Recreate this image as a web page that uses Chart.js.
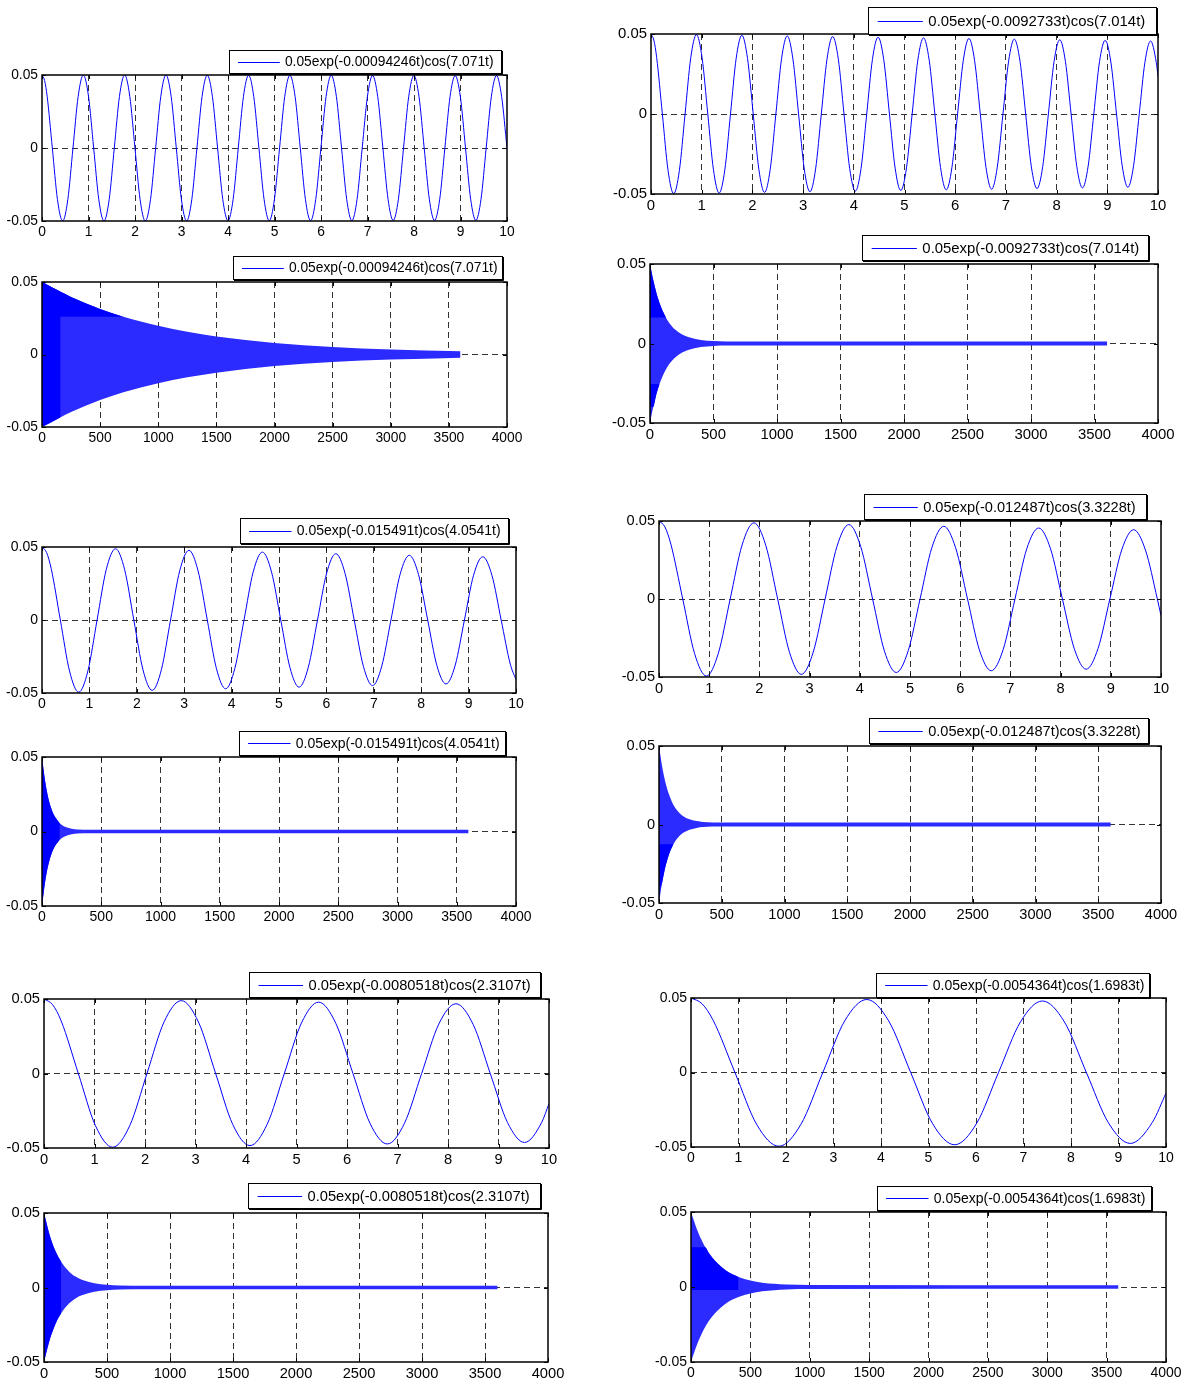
<!DOCTYPE html>
<html>
<head>
<meta charset="utf-8">
<script src="https://cdn.jsdelivr.net/npm/chart.js@4.4.1/dist/chart.umd.min.js"></script>
<style>
    html, body { margin: 0; padding: 0; background: #fff; }
    #page { position: relative; width: 1188px; height: 1380px; overflow: hidden; }
    #page canvas { position: absolute; }
</style>
</head>
<body>
<div id="page"></div>
<script>
// ---- data ----
// short-time plots: time (s) and response, sampled every eighth of a period
const t1 = [0, 0.056, 0.111, 0.222, 0.333, 0.444, 0.555, 0.666, 0.778, 0.889, 1.000, 1.111, 1.222, 1.333, 1.444, 1.555, 1.666,
    1.777, 1.888, 1.999, 2.110, 2.221, 2.333, 2.444, 2.555, 2.666, 2.777, 2.888, 2.999, 3.110, 3.221, 3.332, 3.443,
    3.554, 3.665, 3.776, 3.888, 3.999, 4.110, 4.221, 4.332, 4.443, 4.554, 4.665, 4.776, 4.887, 4.998, 5.109, 5.220,
    5.331, 5.443, 5.554, 5.665, 5.776, 5.887, 5.998, 6.109, 6.220, 6.331, 6.442, 6.553, 6.664, 6.775, 6.886, 6.998,
    7.109, 7.220, 7.331, 7.442, 7.553, 7.664, 7.775, 7.886, 7.997, 8.108, 8.219, 8.330, 8.441, 8.553, 8.664, 8.775,
    8.886, 8.997, 9.108, 9.219, 9.330, 9.441, 9.552, 9.663, 9.774, 9.885, 10];
const y1 = [0.05, 0.0462, 0.0354, 0, -0.0354, -0.05, -0.0354, 0, 0.0354, 0.05, 0.0354, 0, -0.0354, -0.05, -0.0354, 0, 0.0354,
    0.05, 0.0354, 0, -0.0354, -0.05, -0.0354, 0, 0.0354, 0.05, 0.0354, 0, -0.0354, -0.05, -0.0354, 0, 0.0354,
    0.0498, 0.0352, 0, -0.0352, -0.0498, -0.0352, 0, 0.0352, 0.0498, 0.0352, 0, -0.0352, -0.0498, -0.0352, 0, 0.0352,
    0.0498, 0.0352, 0, -0.0352, -0.0498, -0.0352, 0, 0.0352, 0.0498, 0.0352, 0, -0.0352, -0.0498, -0.0352, 0, 0.0352,
    0.0496, 0.0351, 0, -0.0351, -0.0496, -0.0351, 0, 0.0351, 0.0496, 0.0351, 0, -0.0351, -0.0496, -0.0351, 0, 0.0351,
    0.0496, 0.0351, 0, -0.0351, -0.0496, -0.0351, 0, 0.0351, 0.0496, 0.0351, 0];

const t3 = [0, 0.097, 0.194, 0.387, 0.581, 0.775, 0.969, 1.162, 1.356, 1.550, 1.744, 1.937, 2.131, 2.325, 2.519, 2.712, 2.906,
    3.100, 3.293, 3.487, 3.681, 3.875, 4.068, 4.262, 4.456, 4.650, 4.843, 5.037, 5.231, 5.424, 5.618, 5.812, 6.006,
    6.199, 6.393, 6.587, 6.781, 6.974, 7.168, 7.362, 7.556, 7.749, 7.943, 8.137, 8.330, 8.524, 8.718, 8.912, 9.105,
    9.299, 9.493, 9.687, 9.880, 10];
const y3 = [0.05, 0.0462, 0.0352, 0, -0.035, -0.0494, -0.0348, 0, 0.0346, 0.0488, 0.0344, 0, -0.0342, -0.0482, -0.034, 0, 0.0338,
    0.0477, 0.0336, 0, -0.0334, -0.0471, -0.0332, 0, 0.033, 0.0465, 0.0328, 0, -0.0326, -0.046, -0.0324, 0, 0.0322,
    0.0454, 0.032, 0, -0.0318, -0.0449, -0.0316, 0, 0.0314, 0.0443, 0.0312, 0, -0.0311, -0.0438, -0.0309, 0, 0.0307,
    0.0433, 0.0305, 0, -0.0303, -0.0409];

const t5 = [0, 0.170, 0.340, 0.680, 1.020, 1.360, 1.699, 2.039, 2.379, 2.719, 3.059, 3.399, 3.739, 4.079, 4.419, 4.759, 5.098,
    5.438, 5.778, 6.118, 6.458, 6.798, 7.138, 7.478, 7.818, 8.158, 8.497, 8.837, 9.177, 9.517, 9.857, 10];
const y5 = [0.05, 0.0462, 0.0353, 0, -0.0351, -0.0495, -0.0349, 0, 0.0347, 0.0489, 0.0345, 0, -0.0343, -0.0484, -0.0341, 0, 0.0339,
    0.0479, 0.0337, 0, -0.0336, -0.0473, -0.0334, 0, 0.0332, 0.0468, 0.033, 0, -0.0328, -0.0463, -0.0327, -0.0202];

const t7 = [0, 0.056, 0.112, 0.224, 0.336, 0.448, 0.560, 0.672, 0.784, 0.896, 1.008, 1.120, 1.232, 1.344, 1.456, 1.568, 1.680,
    1.792, 1.904, 2.016, 2.128, 2.240, 2.351, 2.463, 2.575, 2.687, 2.799, 2.911, 3.023, 3.135, 3.247, 3.359, 3.471,
    3.583, 3.695, 3.807, 3.919, 4.031, 4.143, 4.255, 4.367, 4.479, 4.591, 4.703, 4.815, 4.927, 5.039, 5.151, 5.263,
    5.375, 5.487, 5.599, 5.711, 5.823, 5.935, 6.047, 6.159, 6.271, 6.383, 6.495, 6.607, 6.719, 6.830, 6.942, 7.054,
    7.166, 7.278, 7.390, 7.502, 7.614, 7.726, 7.838, 7.950, 8.062, 8.174, 8.286, 8.398, 8.510, 8.622, 8.734, 8.846,
    8.958, 9.070, 9.182, 9.294, 9.406, 9.518, 9.630, 9.742, 9.854, 9.966, 10];
const y7 = [0.05, 0.0462, 0.0353, 0, -0.0352, -0.0498, -0.0352, 0, 0.0351, 0.0496, 0.035, 0, -0.0349, -0.0494, -0.0349, 0, 0.0348,
    0.0492, 0.0347, 0, -0.0347, -0.049, -0.0346, 0, 0.0345, 0.0488, 0.0344, 0, -0.0344, -0.0486, -0.0343, 0, 0.0342,
    0.0484, 0.0342, 0, -0.0341, -0.0482, -0.034, 0, 0.034, 0.048, 0.0339, 0, -0.0338, -0.0478, -0.0337, 0, 0.0337,
    0.0476, 0.0336, 0, -0.0335, -0.0474, -0.0335, 0, 0.0334, 0.0472, 0.0333, 0, -0.0333, -0.047, -0.0332, 0, 0.0331,
    0.0468, 0.033, 0, -0.033, -0.0466, -0.0329, 0, 0.0328, 0.0464, 0.0328, 0, -0.0327, -0.0462, -0.0326, 0, 0.0326,
    0.046, 0.0325, 0, -0.0324, -0.0458, -0.0324, 0, 0.0323, 0.0456, 0.0322, 0.0237];

const t9 = [0, 0.118, 0.236, 0.473, 0.709, 0.945, 1.182, 1.418, 1.655, 1.891, 2.127, 2.364, 2.600, 2.836, 3.073, 3.309, 3.546,
    3.782, 4.018, 4.255, 4.491, 4.727, 4.964, 5.200, 5.436, 5.673, 5.909, 6.146, 6.382, 6.618, 6.855, 7.091, 7.327,
    7.564, 7.800, 8.036, 8.273, 8.509, 8.746, 8.982, 9.218, 9.455, 9.691, 9.927, 10];
const y9 = [0.05, 0.0462, 0.0352, 0, -0.035, -0.0494, -0.0348, 0, 0.0346, 0.0488, 0.0344, 0, -0.0342, -0.0483, -0.034, 0, 0.0338,
    0.0477, 0.0336, 0, -0.0334, -0.0471, -0.0332, 0, 0.033, 0.0466, 0.0328, 0, -0.0326, -0.046, -0.0325, 0, 0.0323,
    0.0455, 0.0321, 0, -0.0319, -0.045, -0.0317, 0, 0.0315, 0.0444, 0.0313, 0, -0.0106];

const t11 = [0, 0.231, 0.462, 0.925, 1.387, 1.850, 2.312, 2.775, 3.237, 3.700, 4.162, 4.625, 5.087, 5.550, 6.012, 6.474, 6.937,
    7.399, 7.862, 8.324, 8.787, 9.249, 9.712, 10];
const y11 = [0.05, 0.0462, 0.0353, 0, -0.0351, -0.0495, -0.0349, 0, 0.0347, 0.049, 0.0346, 0, -0.0344, -0.0485, -0.0342, 0, 0.034,
    0.048, 0.0339, 0, -0.0337, -0.0476, -0.0335, -0.0138];

// long-time plots: time (s) and half-height of the oscillation band
const env2T = [0, 160, 250, 500, 700, 1000, 1250, 1500, 2000, 2500, 3000, 3600];
const env2Y = [0.05, 0.0432, 0.0397, 0.0314, 0.026, 0.0198, 0.0157, 0.0125, 0.008, 0.0052, 0.0035, 0.0022];

const env4T = [0, 25, 50, 75, 100, 150, 200, 250, 300, 400, 3600];
const env4Y = [0.05, 0.0345, 0.0235, 0.0162, 0.0112, 0.0056, 0.003, 0.0018, 0.0014, 0.0012, 0.0012];

const env6T = [0, 50, 100, 135, 200, 250, 300, 400, 500, 600, 800, 3600];
const env6Y = [0.05, 0.0338, 0.0228, 0.0175, 0.0106, 0.0073, 0.0052, 0.0028, 0.0018, 0.0014, 0.0012, 0.0012];

const env8T = [0, 25, 50, 75, 100, 125, 150, 200, 250, 300, 400, 500, 600, 3600];
const env8Y = [0.05, 0.0401, 0.0319, 0.0254, 0.0204, 0.0164, 0.0131, 0.0086, 0.0058, 0.0041, 0.0022, 0.0015, 0.0013, 0.0013];

const env10T = [0, 25, 50, 75, 100, 115, 150, 200, 250, 300, 350, 500, 3600];
const env10Y = [0.05, 0.037, 0.0273, 0.0202, 0.015, 0.0125, 0.0085, 0.005, 0.0032, 0.0022, 0.0016, 0.0013, 0.0012];

const env12T = [0, 50, 100, 120, 150, 200, 300, 400, 500, 600, 700, 800, 1000, 3600];
const env12Y = [0.05, 0.0385, 0.0295, 0.0265, 0.0227, 0.0176, 0.0106, 0.0066, 0.0043, 0.0029, 0.0021, 0.0016, 0.0013, 0.0012];

// axis ticks
const xTicksShort = [0, 1, 2, 3, 4, 5, 6, 7, 8, 9, 10];
const xTicksLong = [0, 500, 1000, 1500, 2000, 2500, 3000, 3500, 4000];
const yTicks = [-0.05, 0, 0.05];

const legendText = [
    '0.05exp(-0.00094246t)cos(7.071t)',
    '0.05exp(-0.00094246t)cos(7.071t)',
    '0.05exp(-0.015491t)cos(4.0541t)',
    '0.05exp(-0.015491t)cos(4.0541t)',
    '0.05exp(-0.0080518t)cos(2.3107t)',
    '0.05exp(-0.0080518t)cos(2.3107t)',
    '0.05exp(-0.0092733t)cos(7.014t)',
    '0.05exp(-0.0092733t)cos(7.014t)',
    '0.05exp(-0.012487t)cos(3.3228t)',
    '0.05exp(-0.012487t)cos(3.3228t)',
    '0.05exp(-0.0054364t)cos(1.6983t)',
    '0.05exp(-0.0054364t)cos(1.6983t)'
];

// ---- layout / styling ----
const FONT = "'Liberation Sans', Arial, sans-serif";
const DARK = '#0000ff';
const LIGHT = '#2b2bff';
const M = { l: 60, t: 40, r: 30, b: 28 };

// area = [left, top, right, bottom] of the axes box, legend = [x, y, w, h]
// overlays: darker patches of the dense band (index range into the envelope arrays, value band)
const panels = [
    { t: t1, y: y1, area: [42, 75, 507, 221], legend: [229, 50, 272, 23], fs: 13.8 },
    { t: env2T, e: env2Y, area: [42, 282, 507, 427], legend: [233, 256, 269, 23], fs: 13.8,
      overlays: [{ from: 0, to: 1, lo: -0.05, hi: 0.05 }, { from: 0, to: 4, lo: 0.026, hi: 0.05 }] },
    { t: t3, y: y3, area: [42, 547, 516, 693], legend: [240, 518, 268, 25], fs: 14 },
    { t: env4T, e: env4Y, area: [42, 757, 516, 906], legend: [239, 731, 266, 24], fs: 14,
      overlays: [{ from: 0, to: 5, lo: -0.05, hi: 0.05 }] },
    { t: t5, y: y5, area: [44, 999, 549, 1148], legend: [249, 972, 291, 25], fs: 14.7 },
    { t: env6T, e: env6Y, area: [44, 1213, 548, 1362], legend: [248, 1183, 292, 25], fs: 14.7,
      overlays: [{ from: 0, to: 3, lo: -0.05, hi: 0.05 }] },
    { t: t7, y: y7, area: [651, 34, 1158, 194], legend: [868, 7, 288, 27], fs: 14.9 },
    { t: env8T, e: env8Y, area: [650, 264, 1158, 423], legend: [862, 235, 286, 25], fs: 14.9,
      overlays: [{ from: 0, to: 5, lo: 0.0164, hi: 0.05 }, { from: 0, to: 3, lo: -0.04, hi: -0.0254 }] },
    { t: t9, y: y9, area: [659, 521, 1161, 677], legend: [864, 494, 282, 25], fs: 14.6 },
    { t: env10T, e: env10Y, area: [659, 746, 1161, 903], legend: [869, 718, 279, 25], fs: 14.6,
      overlays: [{ from: 0, to: 5, lo: -0.042, hi: -0.0125 }] },
    { t: t11, y: y11, area: [691, 998, 1166, 1147], legend: [876, 973, 273, 24], fs: 14 },
    { t: env12T, e: env12Y, area: [691, 1212, 1166, 1362], legend: [877, 1186, 274, 24], fs: 14,
      overlays: [{ from: 0, to: 7, lo: -0.002, hi: 0.0265 }] }
];

function curveDatasets(p) {
    return [{
        data: p.t.map((x, i) => ({ x, y: p.y[i] })),
        borderColor: DARK, borderWidth: 1, pointRadius: 0,
        cubicInterpolationMode: 'monotone', fill: false
    }];
}

function bandPair(upper, lower, color) {
    const common = { borderWidth: 0, borderColor: 'rgba(0,0,0,0)', pointRadius: 0, cubicInterpolationMode: 'monotone' };
    return [
        { ...common, data: upper, fill: '+1', backgroundColor: color },
        { ...common, data: lower, fill: false }
    ];
}

function bandDatasets(p) {
    const out = [];
    // overlays first so they end up drawn on top of the base band
    p.overlays.forEach(o => {
        const idx = [];
        for (let i = o.from; i <= o.to; i++) idx.push(i);
        const up = idx.map(i => ({ x: p.t[i], y: Math.min(p.e[i], o.hi) }));
        const lo = idx.map(i => ({ x: p.t[i], y: Math.max(-p.e[i], o.lo) }));
        out.push(...bandPair(up, lo, DARK));
    });
    const up = p.t.map((x, i) => ({ x, y: p.e[i] }));
    const lo = p.t.map((x, i) => ({ x, y: -p.e[i] }));
    out.push(...bandPair(up, lo, LIGHT));
    return out;
}

const framePlugin = {
    id: 'frame',
    afterDraw(chart, args, opts) {
        const { ctx, chartArea: a, scales } = chart;
        ctx.save();
        ctx.strokeStyle = '#000';
        ctx.lineWidth = 1;
        ctx.setLineDash([]);
        ctx.beginPath();
        scales.x.ticks.forEach(tk => {
            const px = Math.round(scales.x.getPixelForValue(tk.value)) + 0.5;
            ctx.moveTo(px, a.bottom); ctx.lineTo(px, a.bottom - 4);
            ctx.moveTo(px, a.top); ctx.lineTo(px, a.top + 4);
        });
        scales.y.ticks.forEach(tk => {
            const py = Math.round(scales.y.getPixelForValue(tk.value)) + 0.5;
            ctx.moveTo(a.left, py); ctx.lineTo(a.left + 4, py);
            ctx.moveTo(a.right, py); ctx.lineTo(a.right - 4, py);
        });
        ctx.stroke();
        ctx.lineWidth = 1.5;
        ctx.strokeRect(a.left, a.top, a.right - a.left, a.bottom - a.top);

        // legend box
        const [lx, ly, lw, lh] = opts.box;
        const bx = lx - opts.ox, by = ly - opts.oy;
        ctx.fillStyle = '#fff';
        ctx.fillRect(bx, by, lw, lh);
        ctx.lineWidth = 1;
        ctx.strokeRect(bx + 0.5, by + 0.5, lw, lh);
        ctx.beginPath();
        ctx.moveTo(bx + lw + 1.5, by + 1); ctx.lineTo(bx + lw + 1.5, by + lh + 1.5);
        ctx.lineTo(bx + 1, by + lh + 1.5);
        ctx.stroke();
        const fs = opts.fs;
        const tx = bx + 4.05 * fs;
        const cy = Math.round(by + lh / 2) + 0.5;
        ctx.strokeStyle = DARK;
        ctx.beginPath();
        ctx.moveTo(bx + 0.65 * fs, cy); ctx.lineTo(tx - 0.37 * fs, cy);
        ctx.stroke();
        ctx.fillStyle = '#000';
        ctx.font = `${fs}px ${FONT}`;
        ctx.textBaseline = 'middle';
        ctx.textAlign = 'left';
        ctx.fillText(opts.text, tx, by + lh / 2 + 1);
        ctx.restore();
    }
};

function makeChart(p, n) {
    const [left, top, right, bottom] = p.area;
    const ox = left - M.l, oy = top - M.t;
    const canvas = document.createElement('canvas');
    canvas.width = (right - left) + M.l + M.r;
    canvas.height = (bottom - top) + M.t + M.b;
    canvas.style.left = ox + 'px';
    canvas.style.top = oy + 'px';
    document.getElementById('page').appendChild(canvas);

    const isLong = !!p.e;
    const xTicks = isLong ? xTicksLong : xTicksShort;
    const xMax = xTicks[xTicks.length - 1];
    const tickFont = { family: FONT, size: p.fs };

    new Chart(canvas, {
        type: 'line',
        data: { datasets: isLong ? bandDatasets(p) : curveDatasets(p) },
        options: {
            responsive: false, animation: false, devicePixelRatio: 1, events: [],
            layout: { padding: { left: 0, top: M.t, right: M.r, bottom: 0 } },
            plugins: {
                legend: { display: false }, tooltip: { enabled: false },
                frame: { box: p.legend, text: legendText[n], fs: p.fs, ox, oy }
            },
            scales: {
                x: {
                    type: 'linear', min: 0, max: xMax,
                    afterBuildTicks: s => { s.ticks = xTicks.map(v => ({ value: v })); },
                    afterFit: s => { s.height = M.b; s.paddingLeft = 0; s.paddingRight = 0; },
                    ticks: { color: '#000', font: tickFont, padding: 3, maxRotation: 0, autoSkip: false,
                             callback: v => String(v) },
                    grid: { drawTicks: false, lineWidth: 1,
                            color: c => (c.tick && (c.tick.value === 0 || c.tick.value === xMax)) ? 'rgba(0,0,0,0)' : '#333' },
                    border: { display: false, dash: [6, 4] }
                },
                y: {
                    min: -0.05, max: 0.05,
                    afterBuildTicks: s => { s.ticks = yTicks.map(v => ({ value: v })); },
                    afterFit: s => { s.width = M.l; s.paddingTop = 0; s.paddingBottom = 0; },
                    ticks: { color: '#000', font: tickFont, padding: 4,
                             callback: v => Math.abs(v) < 1e-9 ? '0' : v.toFixed(2) },
                    grid: { drawTicks: false, lineWidth: 1,
                            color: c => (c.tick && Math.abs(c.tick.value) < 1e-9) ? '#333' : 'rgba(0,0,0,0)' },
                    border: { display: false, dash: [6, 4] }
                }
            }
        },
        plugins: [framePlugin]
    });
}

panels.forEach(makeChart);
</script>
</body>
</html>
